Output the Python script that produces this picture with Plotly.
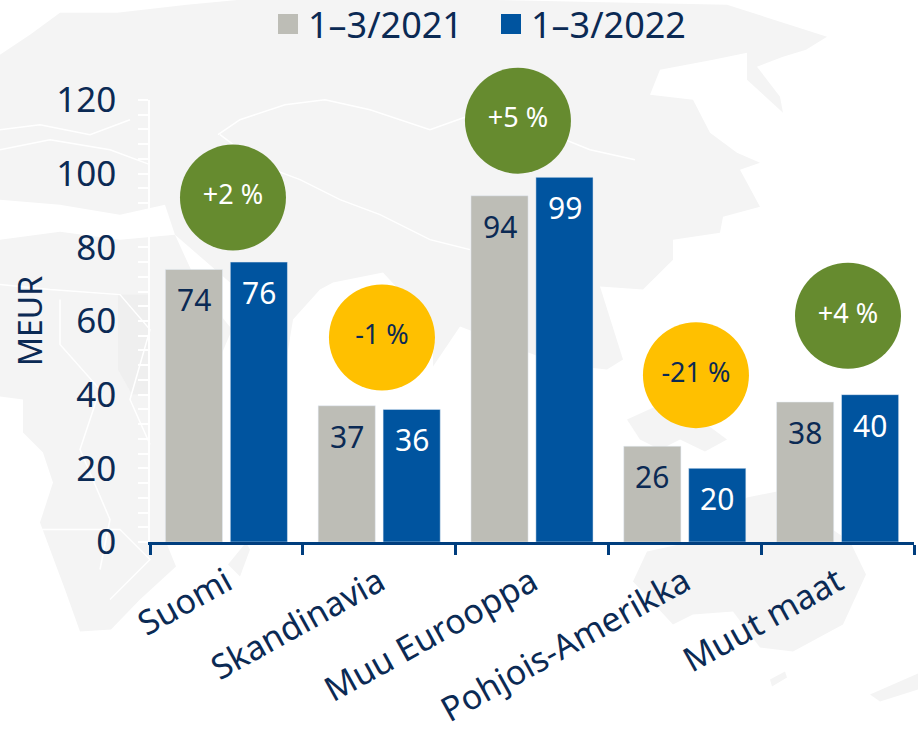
import plotly.graph_objects as go

categories = ["Suomi", "Skandinavia", "Muu Eurooppa", "Pohjois-Amerikka", "Muut maat"]
values_2021 = [74, 37, 94, 26, 38]
values_2022 = [76, 36, 99, 20, 40]
series_names = ["1–3/2021", "1–3/2022"]
change_labels = ["+2 %", "-1 %", "+5 %", "-21 %", "+4 %"]
bubble_x = [0.043, 1.018, 1.908, 3.073, 4.068]
bubble_y = [93.5, 55.5, 114.4, 45.3, 61.4]
bubble_colors = ["#668B2F", "#FFC000", "#668B2F", "#FFC000", "#668B2F"]
bubble_text_colors = ["#FFFFFF", "#0B2A54", "#FFFFFF", "#0B2A54", "#FFFFFF"]
y_ticks = [0, 20, 40, 60, 80, 100, 120]

GREY, BLUE, INK = "#BDBDB6", "#00549F", "#0B2A54"
FONT = "Noto Sans"
L, R, T, B = 150, 914, 100.3, 542.5
W, H = 918, 735

# faint world map behind the chart, in page pixels
land = [
    [(0,55),(30,35),(60,13),(117,13),(187,5),(240,0),(480,0),(727,5),(827,37),(806,50),(783,57),(757,67),(780,97),
     (783,113),(747,80),(747,53),(713,60),(660,70),(650,95),(693,100),(710,133),(737,153),(760,163),(740,170),
     (760,207),(723,217),(720,233),(673,240),(673,260),(643,290),(600,287),(623,360),(607,370),(560,365),(460,327),(433,367),
     (433,327),(383,273),(333,283),(320,290),(293,320),(287,357),(233,317),(230,283),(175,235),(165,205),(120,215),(60,205),(0,200)],
    [(0,240),(60,232),(120,240),(175,235),(200,290),(232,330),(215,370),(170,420),(178,480),(165,540),(176,567),
     (140,600),(111,630),(80,632),(65,590),(40,523),(53,483),(43,453),(23,433),(23,400),(0,397)],
    [(627,420),(660,405),(700,420),(727,440),(705,452),(680,440),(660,450),(640,440)],
    [(747,498),(777,492),(850,542),(866,575),(843,625),(793,652),(760,648),(733,612),(693,615),(673,625),(633,582),(647,552),(693,542)],
    [(228,565),(246,543),(250,550),(240,577)],
    [(770,680),(785,672),(787,678),(772,687)],
    [(870,695),(918,674),(918,690),(880,702)],
]
darker = [(118,295),(150,295),(150,395),(132,395),(118,370)]
borders = [
    [(218,135),(240,120),(285,105),(325,100),(370,110),(400,120),(430,130),(500,105),(540,130),(590,150),(635,160)],
    [(220,135),(260,165),(300,180),(340,200),(380,215),(430,240),(470,250)],
    [(0,130),(40,125),(90,135),(130,120)],
    [(0,150),(50,140),(110,150),(150,165)],
    [(0,285),(50,290),(120,295),(150,330),(130,400),(150,445)],
    [(60,300),(60,345),(100,390),(80,450),(110,520),(100,570)],
    [(40,530),(120,530),(150,560),(110,600)],
]

def to_path(points, close=True):
    coords = [f"{(x-L)/(R-L):.5f},{(B-y)/(B-T):.5f}" for x, y in points]
    return "M" + " L".join(coords) + (" Z" if close else "")

shapes = []
for poly in land:
    shapes.append(dict(type="path", xref="paper", yref="paper", path=to_path(poly), fillcolor="#F4F4F4",
                       line=dict(width=0), layer="below"))
shapes.append(dict(type="path", xref="paper", yref="paper", path=to_path(darker), fillcolor="#EFEFEF",
                   line=dict(width=0), layer="below"))
for line in borders:
    shapes.append(dict(type="path", xref="paper", yref="paper", path=to_path(line, False),
                       line=dict(color="#FFFFFF", width=1.5), layer="below"))

fig = go.Figure()
fig.add_bar(x=categories, y=values_2021, name=series_names[0], marker_color=GREY, showlegend=False)
fig.add_bar(x=categories, y=values_2022, name=series_names[1], marker_color=BLUE, showlegend=False)
for name, col in zip(series_names, [GREY, BLUE]):
    fig.add_scatter(x=[None], y=[None], mode="markers", name=name,
                    marker=dict(symbol="square", size=16, color=col, line=dict(color=col, width=4)))
fig.add_scatter(x=bubble_x, y=bubble_y, xaxis="x2", mode="markers+text", text=change_labels, textposition="middle center",
                cliponaxis=False, showlegend=False,
                marker=dict(size=106, color=bubble_colors, opacity=1),
                textfont=dict(family=FONT, size=27, color=bubble_text_colors))

annotations = []
for vals, shift, col in [(values_2021, -32.5, INK), (values_2022, 32.5, "#FFFFFF")]:
    for c, v in zip(categories, vals):
        annotations.append(dict(x=c, y=v, text=str(v), showarrow=False, xshift=shift, yshift=-30.5,
                                yanchor="middle", font=dict(family=FONT, size=30, color=col)))

fig.update_layout(
    width=W, height=H, autosize=False,
    margin=dict(l=L, r=W-R, t=T, b=H-B, pad=0),
    paper_bgcolor="#FFFFFF", plot_bgcolor="rgba(0,0,0,0)",
    barmode="group", bargap=0.15, bargroupgap=0.12,
    shapes=shapes, annotations=annotations,
    font=dict(family=FONT, color=INK),
    legend=dict(orientation="h", xref="container", yref="container", x=268/W, y=1-24/H, xanchor="left", yanchor="middle",
                font=dict(family=FONT, size=36, color=INK), bgcolor="rgba(0,0,0,0)",
                itemsizing="trace", itemwidth=30, entrywidth=178, entrywidthmode="pixels"),
    xaxis=dict(type="category", categoryorder="array", categoryarray=categories, tickson="boundaries",
               ticks="outside", ticklen=10, tickwidth=2.5, tickcolor="#003E7E", automargin=False,
               showline=True, linewidth=3, linecolor="#003E7E", showgrid=False, zeroline=False,
               ticklabelstandoff=4,
               tickangle=-29, tickfont=dict(family=FONT, size=34, color=INK)),
    xaxis2=dict(overlaying="x", range=[-0.5, 4.5], visible=False),
    yaxis=dict(range=[0, 120], tickvals=y_ticks, ticks="outside", ticklen=10, tickcolor="#FFFFFF", tickwidth=1.5,
               showline=True, linecolor="#FFFFFF", linewidth=1.5, showgrid=False, zeroline=False,
               ticklabelstandoff=15, tickfont=dict(family=FONT, size=35, color=INK),
               minor=dict(dtick=4, ticks="outside", ticklen=10, tickcolor="#FFFFFF", tickwidth=1.5),
               title=dict(text="MEUR", standoff=4, font=dict(family=FONT, size=32, color=INK))),
)
fig.write_html("out.html", config=dict(displayModeBar=False),
               post_script="document.documentElement.style.margin='0';document.body.style.margin='0';document.body.style.overflow='hidden';")
